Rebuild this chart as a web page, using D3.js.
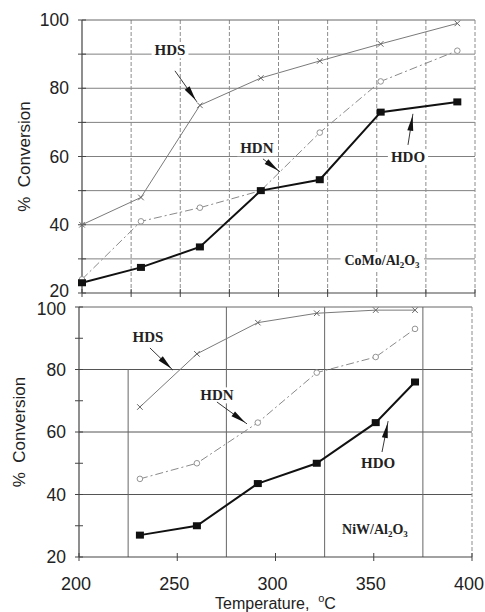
<!DOCTYPE html>
<html><head><meta charset="utf-8">
<script src="https://cdn.jsdelivr.net/npm/d3@7"></script>
<style>html,body{margin:0;padding:0;background:#fff}svg{display:block}</style>
</head><body>
<script>
// ---------- DATA ----------
const xTicks = [200, 250, 300, 350, 400];
const yTicks = [20, 40, 60, 80, 100];

const tempCoMo = [200, 230, 260, 291, 321, 352, 391];
const hdsCoMo  = [40, 48, 75, 83, 88, 93, 99];
const hdnCoMo  = [24, 41, 45, 50, 67, 82, 91];
const hdoCoMo  = [23, 27.5, 33.5, 50, 53.2, 73, 76];

const tempNiW = [231, 260, 291, 321, 351, 371];
const hdsNiW  = [68, 85, 95, 98, 99, 99];
const hdnNiW  = [45, 50, 63, 79, 84, 93];
const hdoNiW  = [27, 30, 43.5, 50, 63, 76];

// annotations in data units: label, label pos, arrow from, arrow to
const annCoMo = [
  {label:"HDS", t:[244.8,91.2], a:[247.3,85.1], b:[258.5,76.0]},
  {label:"HDN", t:[289,62.5],   a:[292.1,59.3], b:[300.8,55.5]},
  {label:"HDO", t:[365.9,59.9], a:[365.9,63.4], b:[368.4,72.5]}
];
const annNiW = [
  {label:"HDS", t:[235.1,90.4], a:[236.1,86.9], b:[247.8,79.8]},
  {label:"HDN", t:[270.2,71.8], a:[270.2,69.6], b:[285.5,62.6]},
  {label:"HDO", t:[352.2,50.1], a:[354.2,53.6], b:[357.3,63.5]}
];
const catCoMo = {pos:[352.7,29.7], main:["CoMo/Al","O"], sub:["2","3"]};
const catNiW  = {pos:[350.6,29.0], main:["NiW/Al","O"], sub:["2","3"]};

// ---------- LAYOUT ----------
const W = 485, H = 612;
const svg = d3.select("body").append("svg").attr("width", W).attr("height", H);

const panels = [
  {x:d3.scaleLinear([200,400],[82,475]), y:d3.scaleLinear([20,100],[293,20]),
   temp:tempCoMo, hds:hdsCoMo, hdn:hdnCoMo, hdo:hdoCoMo, ann:annCoMo, cat:catCoMo,
   vGrid:d3.range(225,400,25), hGrid:d3.range(30,100,10), top:true, labX:69, ylabX:30, shift:{20:-2}},
  {x:d3.scaleLinear([200,400],[79,472]), y:d3.scaleLinear([20,100],[557,307]),
   temp:tempNiW, hds:hdsNiW, hdn:hdnNiW, hdo:hdoNiW, ann:annNiW, cat:catNiW,
   vGrid:[225,275,325,375], hGrid:[40,60,80], top:false, labX:66, ylabX:25, shift:{100:2}}
];

const sansFont = "'Liberation Sans', Arial, sans-serif";
const serifFont = "'Liberation Serif', 'Times New Roman', serif";

panels.forEach(p => {
  const g = svg.append("g");
  const [x0,x1] = p.x.range(), [y0,y1] = p.y.range();

  // grid
  g.selectAll(".hg").data(p.hGrid).join("line")
    .attr("x1",x0).attr("x2",x1).attr("y1",d=>p.y(d)).attr("y2",d=>p.y(d))
    .attr("stroke", p.top ? "#808080" : "#555").attr("stroke-width",1);
  g.selectAll(".vg").data(p.vGrid).join("line")
    .attr("x1",d=>p.x(d)).attr("x2",d=>p.x(d))
    .attr("y1",d=> (!p.top && d===225) ? p.y(80) : y1).attr("y2",y0)
    .attr("stroke", p.top ? "#8c8c8c" : "#666").attr("stroke-width",1)
    .attr("stroke-dasharray", p.top ? "4,2" : null);

  // frame
  g.append("line").attr("x1",x0).attr("x2",x1).attr("y1",y1).attr("y2",y1).attr("stroke","#666").attr("stroke-width",1);
  g.append("line").attr("x1",x1).attr("x2",x1).attr("y1",y1).attr("y2",y0).attr("stroke","#8c8c8c").attr("stroke-width",1).attr("stroke-dasharray","4,2");
  g.append("line").attr("x1",x0).attr("x2",x1).attr("y1",y0).attr("y2",y0).attr("stroke","#444").attr("stroke-width",1.2);
  g.append("line").attr("x1",x0).attr("x2",x0).attr("y1",y1).attr("y2",y0).attr("stroke","#444").attr("stroke-width",1.2);

  // y minor ticks
  g.selectAll(".ymt").data(d3.range(20,101,10)).join("line")
    .attr("x1",x0-4).attr("x2",x0+4).attr("y1",d=>p.y(d)).attr("y2",d=>p.y(d))
    .attr("stroke","#444").attr("stroke-width",1);
  // x ticks
  g.selectAll(".xt").data(p.top ? d3.range(200,401,25) : xTicks).join("line")
    .attr("x1",d=>p.x(d)).attr("x2",d=>p.x(d)).attr("y1",y0-4).attr("y2",y0+4)
    .attr("stroke","#444").attr("stroke-width",1);

  // y tick labels
  g.selectAll(".yl").data(yTicks).join("text")
    .attr("x",p.labX).attr("y",d=>p.y(d) + (p.shift[d]||0)).attr("dy","0.35em")
    .attr("text-anchor","end").attr("font-family",sansFont).attr("font-size",17.5)
    .attr("fill","#222").text(d=>d);

  // y axis title
  g.append("text")
    .attr("transform",`translate(${p.ylabX},${(y0+y1)/2}) rotate(-90)`)
    .attr("text-anchor","middle").attr("font-family",sansFont).attr("font-size",17)
    .attr("fill","#222").attr("xml:space","preserve").text("%  Conversion");

  // series
  const line = d3.line().x(d=>p.x(d[0])).y(d=>p.y(d[1]));
  const hds = p.temp.map((t,i)=>[t,p.hds[i]]);
  const hdn = p.temp.map((t,i)=>[t,p.hdn[i]]);
  const hdo = p.temp.map((t,i)=>[t,p.hdo[i]]);

  g.append("path").attr("d",line(hds)).attr("fill","none").attr("stroke","#7a7a7a").attr("stroke-width",1);
  g.append("path").attr("d",line(hdn)).attr("fill","none").attr("stroke","#8a8a8a").attr("stroke-width",1)
    .attr("stroke-dasharray","8,3,2,3");
  g.append("path").attr("d",line(hdo)).attr("fill","none").attr("stroke","#111").attr("stroke-width",2);

  const sx = d3.symbol().type(d3.symbolX).size(22);
  g.selectAll(".ms").data(hds).join("path")
    .attr("transform",d=>`translate(${p.x(d[0])},${p.y(d[1])})`).attr("d",sx())
    .attr("fill","none").attr("stroke","#666").attr("stroke-width",1);
  g.selectAll(".mn").data(hdn).join("circle")
    .attr("cx",d=>p.x(d[0])).attr("cy",d=>p.y(d[1])).attr("r",2.8)
    .attr("fill","#fff").attr("stroke","#888").attr("stroke-width",0.9);
  g.selectAll(".mo").data(hdo).join("rect")
    .attr("x",d=>p.x(d[0])-4).attr("y",d=>p.y(d[1])-3.5).attr("width",8).attr("height",7)
    .attr("fill","#111");

  // annotations
  p.ann.forEach(a => {
    const ax = p.x(a.a[0]), ay = p.y(a.a[1]), bx = p.x(a.b[0]), by = p.y(a.b[1]);
    const tx = p.x(a.t[0]), ty = p.y(a.t[1]);
    const txt = g.append("text").attr("x",tx).attr("y",ty).attr("dy","0.35em")
      .attr("text-anchor","middle").attr("font-family",serifFont).attr("font-weight","bold")
      .attr("font-size",15).attr("fill","#222").text(a.label);
    const bb = txt.node().getBBox();
    g.insert("rect", () => txt.node()).attr("x",bb.x-3).attr("y",bb.y).attr("width",bb.width+6).attr("height",bb.height)
      .attr("fill","#fff");
    g.append("line").attr("x1",ax).attr("y1",ay).attr("x2",bx).attr("y2",by)
      .attr("stroke","#222").attr("stroke-width",0.9);
    const dx = bx-ax, dy = by-ay, L = Math.hypot(dx,dy), ux = dx/L, uy = dy/L;
    const nx = -uy, ny = ux;
    const tipX = bx - ux*2, tipY = by - uy*2;
    const baseX = bx - ux*17, baseY = by - uy*17;
    g.append("path")
      .attr("d",`M${tipX},${tipY}L${baseX+nx*3},${baseY+ny*3}L${baseX-nx*3},${baseY-ny*3}Z`)
      .attr("fill","#111");
  });

  // catalyst label
  const c = p.cat;
  const ct = g.append("text").attr("x",p.x(c.pos[0])).attr("y",p.y(c.pos[1])).attr("dy","0.35em")
    .attr("text-anchor","middle").attr("font-family",serifFont).attr("font-weight","bold")
    .attr("font-size",14).attr("fill","#222");
  ct.append("tspan").text(c.main[0]);
  ct.append("tspan").attr("font-size",9).attr("dy",3).text(c.sub[0]);
  ct.append("tspan").attr("dy",-3).text(c.main[1]);
  ct.append("tspan").attr("font-size",9).attr("dy",3).text(c.sub[1]);
  const cb = ct.node().getBBox();
  g.insert("rect", () => ct.node()).attr("x",cb.x-4).attr("y",cb.y).attr("width",cb.width+8).attr("height",cb.height)
    .attr("fill","#fff");

  // x tick labels (bottom panel only)
  if (!p.top) {
    g.selectAll(".xl").data(xTicks).join("text")
      .attr("x",d=>p.x(d)-3).attr("y",590).attr("text-anchor","middle")
      .attr("font-family",sansFont).attr("font-size",18).attr("fill","#222").text(d=>d);
    const xt = g.append("text").attr("x",(x0+x1)/2).attr("y",609).attr("text-anchor","middle")
      .attr("font-family",sansFont).attr("font-size",16).attr("fill","#222").attr("xml:space","preserve");
    xt.append("tspan").text("Temperature,  ");
    xt.append("tspan").attr("font-size",11).attr("dy",-7).text("o");
    xt.append("tspan").attr("dy",7).text("C");
  }
});
</script>
</body></html>
